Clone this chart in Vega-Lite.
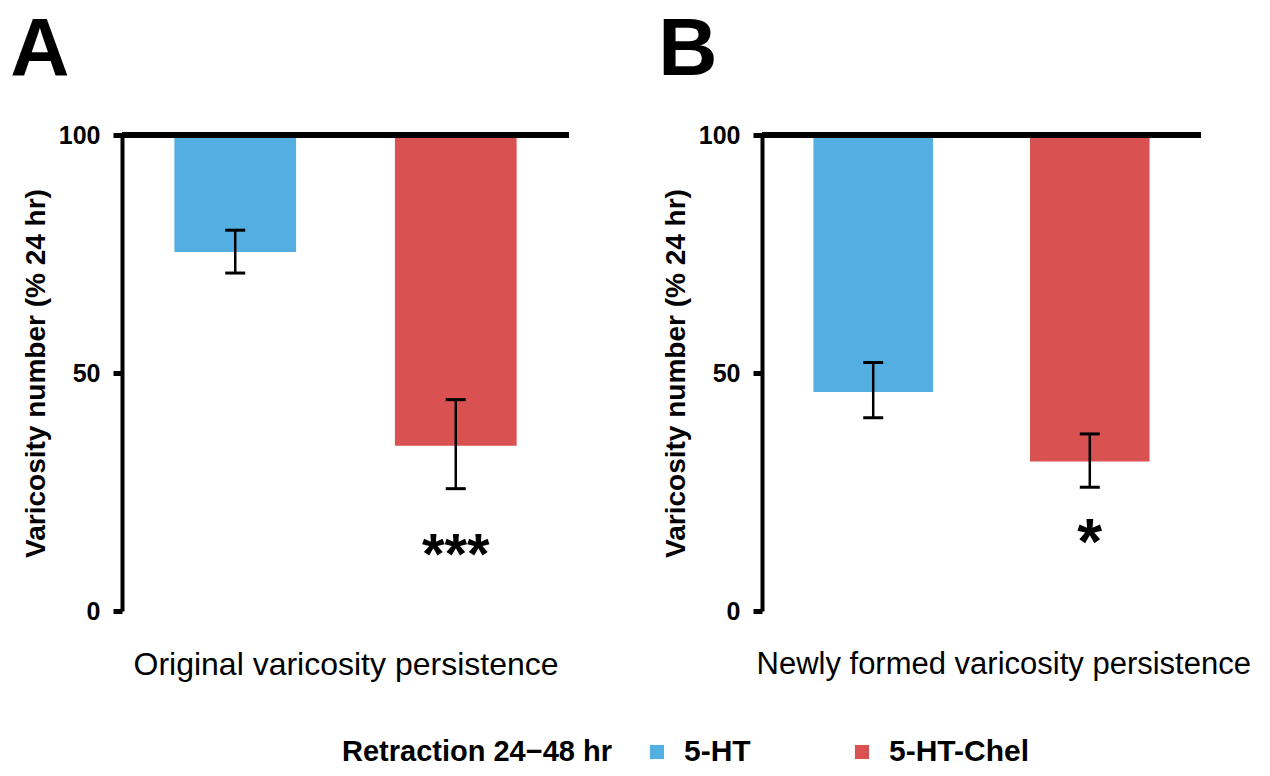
{
  "$schema": "https://vega.github.io/schema/vega-lite/v6.json",
  "padding": {"left": 10, "top": 9, "right": 5, "bottom": 10},
  "background": "white",
  "config": {
    "font": "Liberation Sans",
    "view": {"stroke": null},
    "concat": {"spacing": 86},
    "axisY": {
      "grid": false,
      "domainColor": "black",
      "domainWidth": 4,
      "tickColor": "black",
      "tickWidth": 5,
      "tickSize": 9,
      "labelPadding": 13,
      "labelFontSize": 25,
      "labelFontWeight": "bold",
      "labelColor": "black",
      "titleFontSize": 28,
      "titleFontWeight": "bold",
      "titleColor": "black",
      "titlePadding": 8
    },
    "axisX": {
      "labels": false,
      "ticks": false,
      "domain": false,
      "titlePadding": 38,
      "titleFontSize": 32,
      "titleFontWeight": "normal",
      "titleColor": "black"
    },
    "title": {"fontSize": 82, "fontWeight": "bold", "color": "black", "anchor": "start", "offset": 31}
  },
  "datasets": {
    "A": [
      {"group": "5-HT", "mean": 75.4, "lo": 71.0, "hi": 80.0, "sig": ""},
      {"group": "5-HT-Chel", "mean": 34.7, "lo": 25.7, "hi": 44.4, "sig": "***"}
    ],
    "B": [
      {"group": "5-HT", "mean": 46.0, "lo": 40.6, "hi": 52.2, "sig": ""},
      {"group": "5-HT-Chel", "mean": 31.4, "lo": 26.0, "hi": 37.2, "sig": "*"}
    ]
  },
  "hconcat": [
    {
      "width": 447,
      "height": 476,
      "title": {"text": "A", "dx": -12},
      "data": {"name": "A"},
      "layer": [
        {
          "mark": {"type": "bar"},
          "encoding": {
            "x": {"field": "group", "type": "nominal", "scale": {"domain": ["5-HT", "5-HT-Chel"], "paddingInner": 0.448, "paddingOuter": 0.2375}, "axis": {"title": "Original varicosity persistence"}},
            "y": {"field": "mean", "type": "quantitative", "scale": {"domain": [0, 100]}, "axis": {"title": "Varicosity number (% 24 hr)", "values": [0, 50, 100]}},
            "y2": {"datum": 100},
            "color": {
              "field": "group", "type": "nominal",
              "scale": {"domain": ["5-HT", "5-HT-Chel"], "range": ["#53AEE1", "#D95151"]},
              "legend": {"orient": "none", "legendX": 220, "legendY": 602, "direction": "horizontal", "title": "Retraction 24−48 hr", "titleOrient": "left", "titleFontSize": 29, "titleFontWeight": "bold", "titleColor": "black", "titlePadding": 30, "titleLimit": 500, "labelFontSize": 30, "labelFontWeight": "bold", "labelColor": "black", "labelLimit": 300, "symbolType": "square", "symbolSize": 200, "symbolStrokeWidth": 0, "symbolOpacity": 1, "labelOffset": 12, "columnPadding": 96}
            }
          }
        },
        {"mark": {"type": "rule", "strokeWidth": 6, "color": "black"}, "encoding": {"y": {"datum": 100}}},
        {"mark": {"type": "rule", "strokeWidth": 2.5, "color": "black"}, "encoding": {"x": {"field": "group", "type": "nominal"}, "y": {"field": "lo", "type": "quantitative"}, "y2": {"field": "hi"}}},
        {"mark": {"type": "tick", "thickness": 3, "size": 20, "color": "black", "opacity": 1}, "encoding": {"x": {"field": "group", "type": "nominal"}, "y": {"field": "lo", "type": "quantitative"}}},
        {"mark": {"type": "tick", "thickness": 3, "size": 20, "color": "black", "opacity": 1}, "encoding": {"x": {"field": "group", "type": "nominal"}, "y": {"field": "hi", "type": "quantitative"}}},
        {"mark": {"type": "text", "fontSize": 58, "fontWeight": "bold", "baseline": "alphabetic", "dy": 85, "color": "black"}, "encoding": {"x": {"field": "group", "type": "nominal"}, "y": {"field": "lo", "type": "quantitative"}, "text": {"field": "sig"}}}
      ]
    },
    {
      "width": 439,
      "height": 476,
      "title": {"text": "B", "dx": -4},
      "data": {"name": "B"},
      "layer": [
        {
          "mark": {"type": "bar"},
          "encoding": {
            "x": {"field": "group", "type": "nominal", "scale": {"domain": ["5-HT", "5-HT-Chel"], "paddingInner": 0.448, "paddingOuter": 0.2375}, "axis": {"title": "Newly formed varicosity persistence", "titleAnchor": "start", "titleAlign": "left", "titleX": -6, "titleFontSize": 31}},
            "y": {"field": "mean", "type": "quantitative", "scale": {"domain": [0, 100]}, "axis": {"title": "Varicosity number (% 24 hr)", "values": [0, 50, 100]}},
            "y2": {"datum": 100},
            "color": {
              "field": "group", "type": "nominal",
              "scale": {"domain": ["5-HT", "5-HT-Chel"], "range": ["#53AEE1", "#D95151"]},
              "legend": {"orient": "none", "legendX": 220, "legendY": 602, "direction": "horizontal", "title": "Retraction 24−48 hr", "titleOrient": "left", "titleFontSize": 29, "titleFontWeight": "bold", "titleColor": "black", "titlePadding": 30, "titleLimit": 500, "labelFontSize": 30, "labelFontWeight": "bold", "labelColor": "black", "labelLimit": 300, "symbolType": "square", "symbolSize": 200, "symbolStrokeWidth": 0, "symbolOpacity": 1, "labelOffset": 12, "columnPadding": 96}
            }
          }
        },
        {"mark": {"type": "rule", "strokeWidth": 6, "color": "black"}, "encoding": {"y": {"datum": 100}}},
        {"mark": {"type": "rule", "strokeWidth": 2.5, "color": "black"}, "encoding": {"x": {"field": "group", "type": "nominal"}, "y": {"field": "lo", "type": "quantitative"}, "y2": {"field": "hi"}}},
        {"mark": {"type": "tick", "thickness": 3, "size": 20, "color": "black", "opacity": 1}, "encoding": {"x": {"field": "group", "type": "nominal"}, "y": {"field": "lo", "type": "quantitative"}}},
        {"mark": {"type": "tick", "thickness": 3, "size": 20, "color": "black", "opacity": 1}, "encoding": {"x": {"field": "group", "type": "nominal"}, "y": {"field": "hi", "type": "quantitative"}}},
        {"mark": {"type": "text", "fontSize": 64, "fontWeight": "bold", "baseline": "alphabetic", "dy": 77, "color": "black"}, "encoding": {"x": {"field": "group", "type": "nominal"}, "y": {"field": "lo", "type": "quantitative"}, "text": {"field": "sig"}}}
      ]
    }
  ],
  "resolve": {"scale": {"color": "shared"}}
}
